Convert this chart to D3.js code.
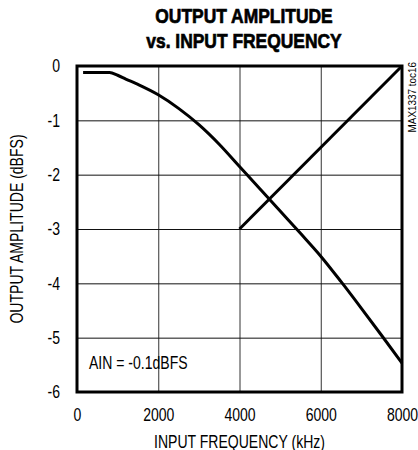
<!DOCTYPE html>
<html>
<head>
<meta charset="utf-8">
<script src="https://cdn.jsdelivr.net/npm/d3@7"></script>
<style>
	body { margin: 0; background: #fff; }
	text { font-family: "Liberation Sans", Arial, sans-serif; fill: #000; }
</style>
</head>
<body>
<script>
// output amplitude vs input frequency
var freq = [150, 500, 800, 1000, 1200, 1500, 2000, 2500, 3000, 3500, 4000, 4500, 5000, 5500, 6000, 6500, 7000, 7500, 8000];
var amp = [-0.12, -0.12, -0.12, -0.17, -0.24, -0.34, -0.53, -0.78, -1.08, -1.44, -1.85, -2.26, -2.67, -3.08, -3.5, -3.97, -4.46, -4.96, -5.47];
var freq2 = [4000, 8000];
var amp2 = [-3, 0];
var xTicks = [0, 2000, 4000, 6000, 8000];
var yTicks = [0, -1, -2, -3, -4, -5, -6];

var mLeft = 77, mRight = 402, mTop = 66, mBottom = 392;
var narrow = "scale(0.78,1)"; // fake condensed face

var svg = d3.select("body")
	.append("svg")
	.attr("width", 418)
	.attr("height", 450);

var x = d3.scaleLinear().domain([0, 8000]).range([mLeft, mRight]);
var y = d3.scaleLinear().domain([-6, 0]).range([mBottom, mTop]);

// title
var title = svg.append("g")
	.attr("transform", "translate(244,0)scale(0.83,1)")
	.attr("text-anchor", "middle")
	.attr("font-size", "21px")
	.attr("font-weight", "bold")
	.attr("stroke", "#000")
	.attr("stroke-width", 0.7);
title.append("text").attr("y", 23).text("OUTPUT AMPLITUDE");
title.append("text").attr("y", 48).text("vs. INPUT FREQUENCY");

// grid
svg.append("g")
	.attr("transform", "translate(0," + mBottom + ")")
	.call(d3.axisBottom(x).tickValues(xTicks.slice(1, -1)).tickSize(-(mBottom - mTop)).tickFormat(""))
	.call(g => g.select(".domain").remove())
	.selectAll("line").attr("stroke", "#333").attr("stroke-width", 1);
svg.append("g")
	.attr("transform", "translate(" + mLeft + ",0)")
	.call(d3.axisLeft(y).tickValues(yTicks.slice(1, -1)).tickSize(-(mRight - mLeft)).tickFormat(""))
	.call(g => g.select(".domain").remove())
	.selectAll("line").attr("stroke", "#111").attr("stroke-width", 1);

// tick labels
svg.append("g")
	.attr("class", "lbl")
	.attr("transform", "translate(0,421)")
	.call(d3.axisBottom(x).tickValues(xTicks).tickSize(0).tickPadding(0).tickFormat(d3.format("d")))
	.call(g => g.select(".domain").remove())
	.selectAll("text").attr("y", 0).attr("dy", null);
svg.append("g")
	.attr("class", "lbl")
	.attr("transform", "translate(" + (mLeft - 17) + ",0)")
	.call(d3.axisLeft(y).tickValues(yTicks).tickSize(0).tickPadding(0).tickFormat(d => d === 0 ? "0" : "-" + Math.abs(d)))
	.call(g => g.select(".domain").remove());
svg.selectAll(".lbl").attr("font-family", null).attr("font-size", "18px");
svg.selectAll(".lbl text").attr("fill", null).attr("transform", narrow);

// axis titles
svg.append("text")
	.attr("transform", "translate(" + (mLeft + mRight) / 2 + ",448)" + narrow)
	.attr("text-anchor", "middle")
	.attr("font-size", "18px")
	.text("INPUT FREQUENCY (kHz)");
svg.append("text")
	.attr("transform", "translate(23," + (mTop + mBottom) / 2 + ")rotate(-90)" + narrow)
	.attr("text-anchor", "middle")
	.attr("font-size", "18px")
	.text("OUTPUT AMPLITUDE (dBFS)");

// lines
var line = d3.line()
	.x(d => x(d[0]))
	.y(d => y(d[1]))
	.curve(d3.curveMonotoneX);
svg.append("path")
	.attr("d", line(d3.zip(freq, amp)))
	.attr("fill", "none")
	.attr("stroke", "#000")
	.attr("stroke-width", 3);
svg.append("path")
	.attr("d", line(d3.zip(freq2, amp2)))
	.attr("fill", "none")
	.attr("stroke", "#000")
	.attr("stroke-width", 3);

// frame
svg.append("rect")
	.attr("x", mLeft)
	.attr("y", mTop)
	.attr("width", mRight - mLeft)
	.attr("height", mBottom - mTop)
	.attr("fill", "none")
	.attr("stroke", "#000")
	.attr("stroke-width", 3);

svg.append("text")
	.attr("transform", "translate(89,369)" + narrow)
	.attr("font-size", "18px")
	.text("AIN = -0.1dBFS");

svg.append("text")
	.attr("transform", "translate(416,62)rotate(-90)scale(0.9,1)")
	.attr("text-anchor", "end")
	.attr("font-size", "11px")
	.text("MAX1337 toc16");
</script>
</body>
</html>
